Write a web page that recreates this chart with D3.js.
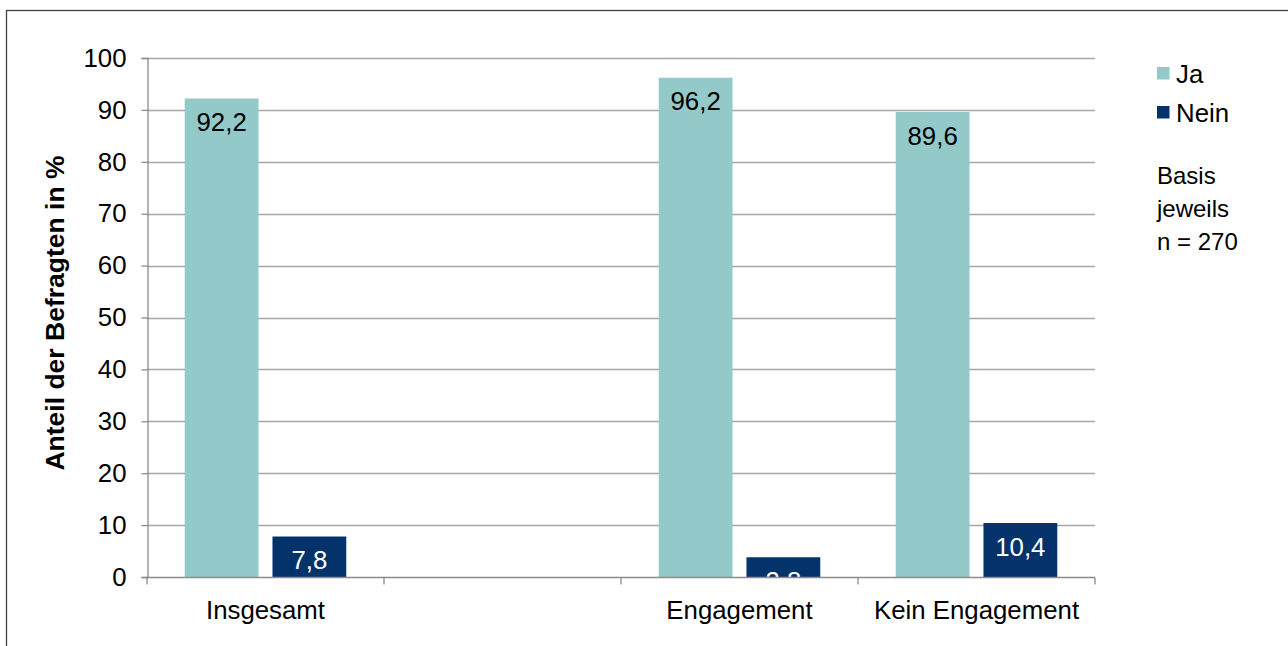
<!DOCTYPE html>
<html>
<head>
<meta charset="utf-8">
<script src="https://cdn.jsdelivr.net/npm/d3@7"></script>
<style>
  html, body { margin: 0; padding: 0; background: #fff; }
  svg { display: block; font-family: "Liberation Sans", Arial, sans-serif; }
</style>
</head>
<body>
<svg id="chart" width="1288" height="646"></svg>
<script>
const categories = ["Insgesamt", "", "Engagement", "Kein Engagement"];
const seriesNames = ["Ja", "Nein"];
const jaValues = [92.2, null, 96.2, 89.6];
const neinValues = [7.8, null, 3.8, 10.4];
const yTicks = [0, 10, 20, 30, 40, 50, 60, 70, 80, 90, 100];
const yAxisTitle = "Anteil der Befragten in %";
const noteLines = ["Basis", "jeweils", "n = 270"];
const colors = { "Ja": "#93C9C8", "Nein": "#03336A" };
const labelColors = { "Ja": "#000000", "Nein": "#ffffff" };

const FS = 25.8;
const svg = d3.select("#chart");

// outer frame (extends beyond viewport on right/bottom)
svg.append("rect")
  .attr("x", 6.5).attr("y", 10.5).attr("width", 1400).attr("height", 800)
  .attr("fill", "none").attr("stroke", "#404040").attr("stroke-width", 1.3);

const plot = { left: 147, right: 1095, top: 58, bottom: 577 };

const y = d3.scaleLinear().domain([0, 100]).range([plot.bottom, plot.top]);
const x0 = d3.scaleBand().domain(categories.map((c, i) => i)).range([plot.left, plot.right]).padding(0);
const x1 = d3.scaleBand().domain(seriesNames).range([0, x0.bandwidth()])
  .paddingInner(0.159).paddingOuter(0.43);

// gridlines
svg.append("g").selectAll("line")
  .data(yTicks.filter(t => t > 0))
  .join("line")
  .attr("x1", plot.left).attr("x2", plot.right)
  .attr("y1", d => Math.round(y(d)) + 0.5).attr("y2", d => Math.round(y(d)) + 0.5)
  .attr("stroke", "#A6A6A6").attr("stroke-width", 1.3);

const data = categories.map((c, i) => ({
  i, cat: c,
  values: [{ key: "Ja", v: jaValues[i] }, { key: "Nein", v: neinValues[i] }]
}));

const groups = svg.append("g").selectAll("g")
  .data(data).join("g")
  .attr("transform", d => `translate(${x0(d.i)},0)`);

groups.selectAll("rect")
  .data(d => d.values.filter(e => e.v != null))
  .join("rect")
  .attr("x", d => x1(d.key))
  .attr("width", x1.bandwidth())
  .attr("y", d => y(d.v))
  .attr("height", d => y(0) - y(d.v))
  .attr("fill", d => colors[d.key]);

groups.selectAll("text")
  .data(d => d.values.filter(e => e.v != null))
  .join("text")
  .attr("x", d => x1(d.key) + x1.bandwidth() / 2)
  .attr("y", d => y(d.v) + 23.5)
  .attr("dy", "0.35em")
  .attr("text-anchor", "middle")
  .attr("font-size", FS)
  .attr("fill", d => labelColors[d.key])
  .text(d => d3.format(".1f")(d.v).replace(".", ","));

// y axis
const yAxis = d3.axisLeft(y).tickValues(yTicks).tickSize(6).tickPadding(15);
const gy = svg.append("g").attr("transform", `translate(${plot.left + 0.5},0)`).call(yAxis);
gy.select(".domain").attr("stroke", "#8C8C8C").attr("stroke-width", 1.3);
gy.selectAll(".tick line").attr("stroke", "#8C8C8C").attr("stroke-width", 1.3);
gy.selectAll(".tick text").attr("font-size", FS).attr("fill", "#000")
  .attr("font-family", "Liberation Sans, Arial, sans-serif");

// x axis
const gx = svg.append("g").attr("transform", `translate(0,${plot.bottom + 0.5})`);
gx.append("line").attr("x1", plot.left).attr("x2", plot.right)
  .attr("stroke", "#8C8C8C").attr("stroke-width", 1.3);
const boundaries = categories.map((c, i) => x0(i)).concat([x0(categories.length - 1) + x0.bandwidth()]);
gx.selectAll("line.tk").data(boundaries).join("line").attr("class", "tk")
  .attr("x1", d => d).attr("x2", d => d).attr("y1", 0).attr("y2", 7)
  .attr("stroke", "#8C8C8C").attr("stroke-width", 1.3);
gx.selectAll("text").data(data).join("text")
  .attr("x", d => x0(d.i) + x1("Ja") + (x1("Nein") + x1.bandwidth() - x1("Ja")) / 2)
  .attr("y", 32).attr("dy", "0.35em")
  .attr("text-anchor", "middle").attr("font-size", FS).attr("fill", "#000")
  .text(d => d.cat);

// y axis title
svg.append("text")
  .attr("transform", `translate(64,313) rotate(-90)`)
  .attr("text-anchor", "middle").attr("font-size", 26.5).attr("font-weight", "bold")
  .attr("fill", "#000")
  .text(yAxisTitle);

// legend
const legend = svg.append("g").selectAll("g").data(seriesNames).join("g")
  .attr("transform", (d, i) => `translate(1157,${67 + i * 39})`);
legend.append("rect").attr("width", 12.5).attr("height", 12.5).attr("fill", d => colors[d]);
legend.append("text").attr("x", 19).attr("y", 6.5).attr("dy", "0.35em")
  .attr("font-size", FS).attr("fill", "#000").text(d => d);

svg.append("g").selectAll("text").data(noteLines).join("text")
  .attr("x", 1157).attr("y", (d, i) => 175.5 + i * 33).attr("dy", "0.35em")
  .attr("font-size", 24).attr("fill", "#000").text(d => d);
</script>
</body>
</html>
